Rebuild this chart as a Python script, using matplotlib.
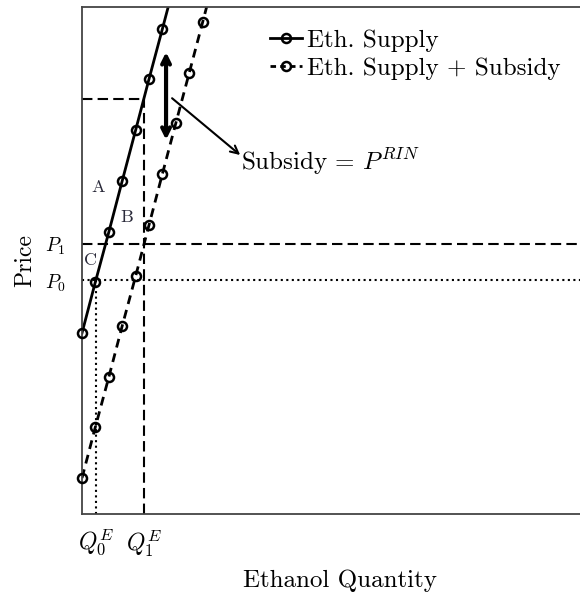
import numpy as np
import matplotlib
matplotlib.use('Agg')
import matplotlib.pyplot as plt
from matplotlib.lines import Line2D

plt.rcParams['font.family'] = 'serif'
plt.rcParams['font.serif'] = ['cmr10']
plt.rcParams['mathtext.fontset'] = 'cm'
plt.rcParams['axes.unicode_minus'] = False

# supply schedule (quantity, price); last point lies above the frame and is clipped
supply_q = [0, 1, 2, 3, 4, 5, 6, 7]
supply_p = [3.57, 4.58, 5.56, 6.57, 7.57, 8.58, 9.57, 10.57]
# supply shifted down by the RIN subsidy
subsidy_q = [0, 1, 2, 3, 4, 5, 6, 7, 8, 9, 10]
subsidy_p = [0.71, 1.72, 2.70, 3.71, 4.69, 5.70, 6.71, 7.71, 8.70, 9.70, 10.71]

q0, p0 = 1.04, 4.61
q1, p1 = 4.62, 5.33
p1_supply = 8.19

YMAX = 10
XMAX = 38.5

fig = plt.figure(figsize=(5.8, 5.96), dpi=100)
ax = fig.add_axes([0.1414, 0.1376, 0.8897, 0.8507])

mk = dict(marker='o', ms=6.5, mfc='none', mew=1.8, color='black')


def curve(q, p, **ls):
    ax.plot(q, p, color='black', lw=2, **ls)
    # markers are not clipped at the left spine, only points inside the frame
    q = np.array(q)
    p = np.array(p)
    keep = p <= YMAX
    ax.plot(q[keep], p[keep], ls='none', clip_on=False, zorder=3, **mk)


curve(supply_q, supply_p, ls='-')
curve(subsidy_q, subsidy_p, ls='--', dashes=(3.2, 2.2))

ax.axhline(p1, color='black', lw=1.5, dashes=(5, 2.5))
ax.axhline(p0, color='black', lw=1.5, ls=':')
ax.plot([q0, q0], [0, p0], color='black', lw=1.5, ls=':')
ax.plot([q1, q1], [0, p1_supply], color='black', lw=1.5, dashes=(5, 2.5))
ax.plot([0, q1], [p1_supply, p1_supply], color='black', lw=1.5, dashes=(5, 2.5))

# subsidy wedge
ax.annotate('', xy=(6.27, 9.11), xytext=(6.27, 7.38),
            arrowprops=dict(arrowstyle='<->', lw=3, color='black',
                            shrinkA=0, shrinkB=0, mutation_scale=14))
ax.annotate('', xy=(11.8, 7.08), xytext=(6.72, 8.2),
            arrowprops=dict(arrowstyle='->', lw=1.5, color='black',
                            shrinkA=0, shrinkB=0, mutation_scale=14))
ax.text(11.87, 6.94, r'Subsidy = $P^{RIN}$', fontsize=18, va='center', ha='left')

ax.text(1.19, 6.45, 'A', fontsize=13, ha='center', va='center', color='#2a2a3a')
ax.text(3.36, 5.86, 'B', fontsize=13, ha='center', va='center', color='#2a2a3a')
ax.text(0.6, 5.01, 'C', fontsize=13, ha='center', va='center', color='#2a2a3a')

ax.set_xlim(0, XMAX)
ax.set_ylim(0, YMAX)
ax.set_xticks([q0, q1])
ax.set_xticklabels([r'$Q_0^E$', r'$Q_1^E$'], fontsize=17)
ax.set_yticks([p0, p1])
ax.set_yticklabels([r'$P_0$', r'$P_1$'], fontsize=14)
ax.tick_params(length=0)
ax.tick_params(axis='x', pad=10)
ax.tick_params(axis='y', pad=12)
ax.set_xlabel('Ethanol Quantity', fontsize=18, labelpad=8)
ax.set_ylabel('Price', fontsize=17, labelpad=6)
for s in ax.spines.values():
    s.set_color('#444444')
    s.set_linewidth(1.3)

handles = [Line2D([], [], ls='-', lw=2, **mk),
           Line2D([], [], ls='--', lw=2, dashes=(2, 1.5), **mk)]
ax.legend(handles, ['Eth. Supply', 'Eth. Supply + Subsidy'],
          loc='upper left', bbox_to_anchor=(0.34, 0.98), frameon=False,
          fontsize=18, handlelength=1.3, handletextpad=0.2, borderpad=0,
          labelspacing=0.2)

plt.savefig('out.png', dpi=100)
plt.close()
